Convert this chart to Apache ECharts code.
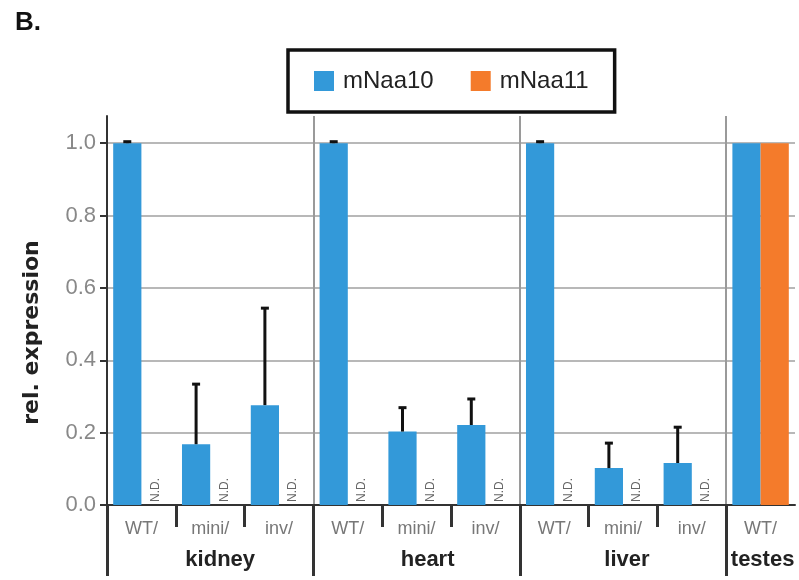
<!DOCTYPE html>
<html><head><meta charset="utf-8">
<script src="https://cdn.jsdelivr.net/npm/echarts@6/dist/echarts.min.js"></script>
<style>html,body{margin:0;padding:0;background:#fff}#c{width:799px;height:580px}</style>
</head><body><div id="c"></div>
<script>
// ---- data ----
const subLabels = ['WT/','mini/','inv/','WT/','mini/','inv/','WT/','mini/','inv/','WT/'];
const groupLabels = ['kidney','heart','liver','testes'];
const groupSizes = [3,3,3,1];
const seriesNames = ['mNaa10','mNaa11'];
const naa10 = [1.0,0.168,0.276,1.0,0.203,0.221,1.0,0.102,0.116,1.0];
const naa10Err = [0.004,0.166,0.268,0.004,0.066,0.072,0.004,0.069,0.099,0];
const naa11 = [0,0,0,0,0,0,0,0,0,1.0];
const notDetected = [true,true,true,true,true,true,true,true,true,false];
const yTicks = [0,0.2,0.4,0.6,0.8,1.0];

// ---- derived structure ----
const nSub = subLabels.length;
const halfData = new Array(2*nSub+1).fill('');
const groupStartPts = [], innerPts = [];
let s = 0;
groupLabels.forEach((g,k)=>{
  groupStartPts.push(2*s);
  for (let j=1;j<groupSizes[k];j++) innerPts.push(2*(s+j));
  halfData[2*s+groupSizes[k]] = g;
  s += groupSizes[k];
});
const errData = naa10.map((v,i)=>[i, v, naa10Err[i]]).filter(d=>d[2]>0);
const ndData = notDetected.map((f,i)=>f?[i,0]:null).filter(d=>d);

const BLUE = '#3399d9', ORANGE = '#f47b2b';
const FONT = 'Liberation Sans';
const barGapFrac = 0.18;
const halfBarShift = (1-barGapFrac)/4; // center offset of each bar as fraction of band

// label nudges (style): left padding per group label
const groupPad = {kidney:20, heart:22, liver:8, testes:4};
const rich = {};
groupLabels.forEach((g,k)=>{ rich['g'+k] = {fontSize:22, fontWeight:'bold', color:'#222', fontFamily:FONT, padding:[0,0,0,groupPad[g]]}; });

const chart = echarts.init(document.getElementById('c'), null, {renderer:'canvas'});
chart.setOption({
  animation:false,
  backgroundColor:'#fff',
  title:{text:'B.', left:10, top:5, textStyle:{fontSize:26, fontWeight:'bold', color:'#111', fontFamily:FONT}},
  legend:{
    data:seriesNames, left:288, top:50, orient:'horizontal',
    padding:[19,26,19,26], borderColor:'#111', borderWidth:3.5,
    itemWidth:20, itemHeight:20, itemGap:37, icon:'rect',
    textStyle:{fontSize:24, color:'#222', fontFamily:FONT, padding:[0,0,0,4]}
  },
  grid:{left:107, right:4, top:116, bottom:75, containLabel:false},
  xAxis:[
    {type:'category', data:subLabels, position:'bottom', boundaryGap:true,
     axisLine:{show:true, lineStyle:{color:'#333', width:2}},
     axisTick:{show:false}, splitLine:{show:false},
     axisLabel:{show:true, interval:0, margin:15, fontSize:18, color:'#777', fontFamily:FONT}},
    {type:'category', data:halfData, position:'bottom', boundaryGap:false,
     axisLine:{show:false},
     axisTick:{show:true, interval:(i)=>groupStartPts.includes(i), length:71, lineStyle:{color:'#333', width:3}},
     axisLabel:{show:true, interval:(i,v)=>v!=='', margin:44, fontSize:22, fontWeight:'bold', color:'#222', fontFamily:FONT,
       formatter:(v)=>{ const k = groupLabels.indexOf(v); return k>=0 ? '{g'+k+'|'+v+'}' : ''; },
       rich:rich},
     splitLine:{show:true, interval:(i)=>groupStartPts.includes(i)&&i>0, lineStyle:{color:'#9a9a9a', width:2}}},
    {type:'category', data:halfData, position:'bottom', boundaryGap:false,
     axisLine:{show:false},
     axisTick:{show:true, interval:(i)=>innerPts.includes(i), length:22, lineStyle:{color:'#333', width:3}},
     axisLabel:{show:false}, splitLine:{show:false}}
  ],
  yAxis:{
    type:'value', min:0, max:1.075,
    name:'rel. expression', nameLocation:'middle', nameGap:64, nameRotate:90,
    nameTextStyle:{fontSize:22, fontWeight:'bold', color:'#222', fontFamily:'DejaVu Sans', padding:[0,44,0,0]},
    axisLine:{show:true, lineStyle:{color:'#333', width:2}},
    axisTick:{show:true, customValues:yTicks, length:7, lineStyle:{color:'#333', width:2}},
    axisLabel:{show:true, customValues:yTicks, formatter:(v)=>v.toFixed(1), fontSize:22, color:'#888', margin:11, fontFamily:FONT},
    splitLine:{show:true, showMaxLine:true, lineStyle:{color:'#b8b8b8', width:2}}
  },
  series:[
    {name:seriesNames[0], type:'bar', xAxisIndex:0, data:naa10, itemStyle:{color:BLUE},
     barGap:'0%', barCategoryGap:(barGapFrac*100)+'%'},
    {name:seriesNames[1], type:'bar', xAxisIndex:0, data:naa11, itemStyle:{color:ORANGE},
     barGap:'0%', barCategoryGap:(barGapFrac*100)+'%'},
    {name:'err', type:'custom', xAxisIndex:0, z:5, data:errData, encode:{x:0,y:1},
     renderItem:(params, api)=>{
       const i = api.value(0), v = api.value(1), e = api.value(2);
       const band = api.size([1,0])[0];
       const base = api.coord([i, v]);
       const top = api.coord([i, v+e]);
       const x = base[0] - band*halfBarShift;
       return {type:'group', children:[
         {type:'line', shape:{x1:x, y1:base[1], x2:x, y2:top[1]}, style:{stroke:'#111', lineWidth:3}},
         {type:'line', shape:{x1:x-4, y1:top[1], x2:x+4, y2:top[1]}, style:{stroke:'#111', lineWidth:3}}
       ]};
     }},
    {name:'nd', type:'custom', xAxisIndex:0, z:6, data:ndData, encode:{x:0,y:1},
     renderItem:(params, api)=>{
       const i = api.value(0);
       const band = api.size([1,0])[0];
       const p = api.coord([i, 0]);
       return {type:'text', x:p[0] + band*halfBarShift, y:p[1]-3, rotation:Math.PI/2,
         style:{text:'N.D.', fontSize:12, fill:'#666', fontFamily:FONT, align:'left', verticalAlign:'middle'}};
     }}
  ]
});
</script>
</body></html>
